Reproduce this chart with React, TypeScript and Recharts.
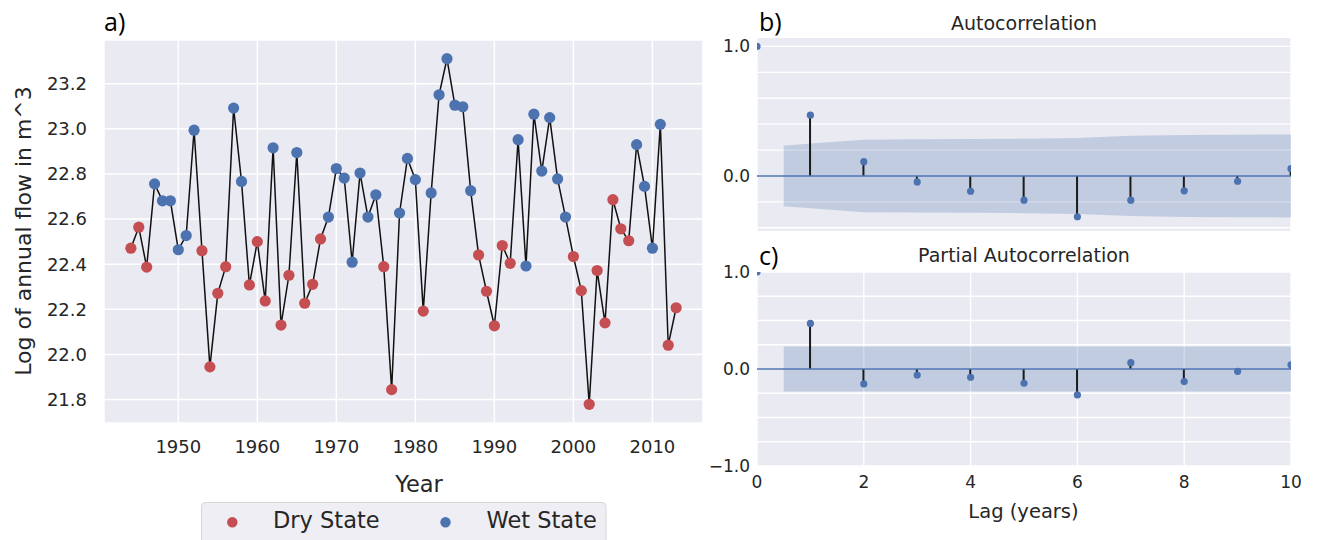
import { Area, Bar, CartesianGrid, ComposedChart, Line, ReferenceLine, XAxis, YAxis } from "recharts";

// ---- panel a) annual flow ----
const years = [
  1944, 1945, 1946, 1947, 1948, 1949, 1950, 1951, 1952, 1953,
  1954, 1955, 1956, 1957, 1958, 1959, 1960, 1961, 1962, 1963,
  1964, 1965, 1966, 1967, 1968, 1969, 1970, 1971, 1972, 1973,
  1974, 1975, 1976, 1977, 1978, 1979, 1980, 1981, 1982, 1983,
  1984, 1985, 1986, 1987, 1988, 1989, 1990, 1991, 1992, 1993,
  1994, 1995, 1996, 1997, 1998, 1999, 2000, 2001, 2002, 2003,
  2004, 2005, 2006, 2007, 2008, 2009, 2010, 2011, 2012, 2013,
];
const logFlow = [
  22.471, 22.564, 22.387, 22.756, 22.681, 22.681, 22.464, 22.527, 22.994, 22.46,
  21.945, 22.271, 22.389, 23.092, 22.767, 22.308, 22.5, 22.237, 22.916, 22.13,
  22.351, 22.895, 22.227, 22.311, 22.512, 22.609, 22.824, 22.782, 22.409, 22.804,
  22.609, 22.708, 22.389, 21.844, 22.627, 22.869, 22.775, 22.192, 22.716, 23.151,
  23.311, 23.105, 23.098, 22.726, 22.441, 22.28, 22.127, 22.483, 22.404, 22.952,
  22.392, 23.065, 22.813, 23.05, 22.778, 22.609, 22.434, 22.283, 21.779, 22.372,
  22.14, 22.686, 22.557, 22.504, 22.93, 22.745, 22.471, 23.02, 22.041, 22.207,
];
// D = dry state, W = wet state
const states = [
  "D", "D", "D", "W", "W", "W", "W", "W", "W", "D",
  "D", "D", "D", "W", "W", "D", "D", "D", "W", "D",
  "D", "W", "D", "D", "D", "W", "W", "W", "W", "W",
  "W", "W", "D", "D", "W", "W", "W", "D", "W", "W",
  "W", "W", "W", "W", "D", "D", "D", "D", "D", "W",
  "W", "W", "W", "W", "W", "W", "D", "D", "D", "D",
  "D", "D", "D", "D", "W", "W", "W", "W", "D", "D",
];
const yearTicks = [1950, 1960, 1970, 1980, 1990, 2000, 2010];
const flowTicks = [21.8, 22.0, 22.2, 22.4, 22.6, 22.8, 23.0, 23.2];

// ---- panels b) c) ----
const lags = [0, 1, 2, 3, 4, 5, 6, 7, 8, 9, 10];
const acfVals = [1.0, 0.469, 0.11, -0.046, -0.118, -0.187, -0.315, -0.187, -0.115, -0.041, 0.056];
const pacfVals = [1.0, 0.47, -0.154, -0.062, -0.085, -0.147, -0.267, 0.065, -0.13, -0.024, 0.044];
const bandLags = [0.5, 1, 2, 3, 4, 5, 6, 7, 8, 9, 10];
const acfBand = [0.234, 0.25, 0.28, 0.283, 0.285, 0.287, 0.293, 0.31, 0.317, 0.319, 0.32];
const pacfBand = [0.232, 0.232, 0.232, 0.232, 0.232, 0.232, 0.232, 0.232, 0.232, 0.232, 0.232];
const lagTicks = [0, 2, 4, 6, 8, 10];
const acfTicks = [-0.4, -0.2, 0, 0.2, 0.4, 0.6, 0.8, 1.0];
const pacfTicks = [-1, -0.75, -0.5, -0.25, 0, 0.25, 0.5, 0.75, 1];

const RED = "#C44E52";
const BLUE = "#4C72B0";
const BG = "#EAEAF2";
const INK = "#262626";
const FONT = "DejaVu Sans";

const flowData = years.map((y, i) => ({ year: y, flow: logFlow[i], state: states[i] }));

function buildCorr(vals: number[], band: number[]) {
  const xs = Array.from(new Set([...lags, ...bandLags])).sort((a, b) => a - b);
  return xs.map((x) => {
    const li = lags.indexOf(x);
    const bi = bandLags.indexOf(x);
    return {
      lag: x,
      val: li >= 0 ? vals[li] : null,
      stem: li > 0 ? vals[li] : null,
      band: bi >= 0 ? [-band[bi], band[bi]] : null,
    };
  });
}
const acfData = buildCorr(acfVals, acfBand);
const pacfData = buildCorr(pacfVals, pacfBand);

const near = (a: number, b: number) => Math.abs(a - b) < 1e-9;

function StateDot(props: any) {
  const { cx, cy, payload, index } = props;
  if (cx == null || cy == null) return <g key={`d${index}`} />;
  return <circle key={`d${index}`} cx={cx} cy={cy} r={5.6} fill={payload.state === "D" ? RED : BLUE} />;
}

function CorrPanel({ data, ticks, domain, fmt, top, height, margin, showX }: any) {
  return (
    <div style={{ position: "absolute", left: 700, top }}>
      <ComposedChart width={620} height={height} data={data} margin={margin}>
        <CartesianGrid fill={BG} stroke="#FFFFFF" strokeWidth={1.3} horizontalValues={ticks} />
        <XAxis
          dataKey="lag"
          type="number"
          domain={[0, 10]}
          ticks={lagTicks}
          allowDataOverflow
          axisLine={false}
          tickLine={false}
          tick={showX ? { fill: INK, fontSize: 17, fontFamily: FONT } : false}
          tickSize={4}
          tickMargin={6}
          height={showX ? 30 : 0}
        />
        <YAxis
          type="number"
          domain={domain}
          ticks={ticks}
          allowDataOverflow
          interval={0}
          axisLine={false}
          tickLine={false}
          width={57}
          tickSize={3}
          tickMargin={4}
          tick={{ fill: INK, fontSize: 17, fontFamily: FONT }}
          tickFormatter={fmt}
        />
        <Area dataKey="band" stroke="none" fill={BLUE} fillOpacity={0.25} connectNulls isAnimationActive={false} activeDot={false} />
        <Bar dataKey="stem" barSize={2} fill="#1a1a1a" isAnimationActive={false} />
        <ReferenceLine y={0} stroke={BLUE} strokeWidth={1.6} />
        <Line dataKey="val" stroke="none" dot={{ r: 3.6, fill: BLUE, stroke: "none" }} activeDot={false} isAnimationActive={false} />
      </ComposedChart>
    </div>
  );
}

export default function App() {
  return (
    <div style={{ position: "absolute", left: 0, top: 0, width: 1319, height: 540, background: "#fff", fontFamily: FONT }}>
      <div style={{ position: "absolute", left: 0, top: 0 }}>
        <ComposedChart width={720} height={460} data={flowData} margin={{ top: 40, right: 17, bottom: 7, left: 0 }}>
          <CartesianGrid fill={BG} stroke="#FFFFFF" strokeWidth={1.5} />
          <XAxis
            dataKey="year"
            type="number"
            domain={[1940.6, 2016.4]}
            ticks={yearTicks}
            allowDataOverflow
            axisLine={false}
            tickLine={false}
            tickSize={6}
            tickMargin={11.5}
            height={30}
            tick={{ fill: INK, fontSize: 18, fontFamily: FONT }}
          />
          <YAxis
            type="number"
            domain={[21.696, 23.394]}
            ticks={flowTicks}
            allowDataOverflow
            interval={0}
            axisLine={false}
            tickLine={false}
            width={104}
            tickSize={6}
            tickMargin={11}
            tick={{ fill: INK, fontSize: 18, fontFamily: FONT }}
            tickFormatter={(v: number) => v.toFixed(1)}
          />
          <Line dataKey="flow" stroke="none" dot={StateDot} activeDot={false} isAnimationActive={false} />
          <Line dataKey="flow" stroke="#111111" strokeWidth={1.5} dot={false} activeDot={false} isAnimationActive={false} />
        </ComposedChart>
      </div>

      <CorrPanel
        data={acfData}
        ticks={acfTicks}
        domain={[-0.425, 1.065]}
        fmt={(v: number) => (near(v, 1) ? "1.0" : near(v, 0) ? "0.0" : "")}
        top={0}
        height={240}
        margin={{ top: 38, right: 29, bottom: 9, left: 0 }}
        showX={false}
      />
      <CorrPanel
        data={pacfData}
        ticks={pacfTicks}
        domain={[-1, 1]}
        fmt={(v: number) => (near(v, 1) ? "1.0" : near(v, 0) ? "0.0" : near(v, -1) ? "\u22121.0" : "")}
        top={240}
        height={300}
        margin={{ top: 32, right: 29, bottom: 44, left: 0 }}
        showX={true}
      />

      <svg width={1319} height={540} style={{ position: "absolute", left: 0, top: 0, pointerEvents: "none" }}>
        <g fontFamily="Open Sans" fontSize={25} fill="#000">
          <text x={104} y={31}>a)</text>
          <text x={759} y={31}>b)</text>
          <text x={759} y={265}>c)</text>
        </g>
        <g fontFamily={FONT} fill={INK}>
          <text x={1024} y={30} fontSize={19} textAnchor="middle">Autocorrelation</text>
          <text x={1024} y={261.5} fontSize={19} textAnchor="middle">Partial Autocorrelation</text>
          <text x={1023.5} y={518} fontSize={19.5} textAnchor="middle">Lag (years)</text>
          <text x={419} y={491.5} fontSize={22.5} textAnchor="middle">Year</text>
          <text transform="translate(30.5,231) rotate(-90)" fontSize={22} textAnchor="middle">Log of annual flow in m^3</text>
        </g>
        <g>
          <rect x={201.5} y={502.5} width={404.5} height={60} rx={4} fill="#EEEEF4" stroke="#D6D6D6" strokeWidth={1} />
          <circle cx={232.3} cy={522.3} r={5.2} fill={RED} />
          <text x={273} y={528.3} fontFamily={FONT} fontSize={22.5} fill={INK}>Dry State</text>
          <circle cx={445.5} cy={522.3} r={5.2} fill={BLUE} />
          <text x={486.5} y={528.3} fontFamily={FONT} fontSize={22.5} fill={INK}>Wet State</text>
        </g>
      </svg>
    </div>
  );
}
